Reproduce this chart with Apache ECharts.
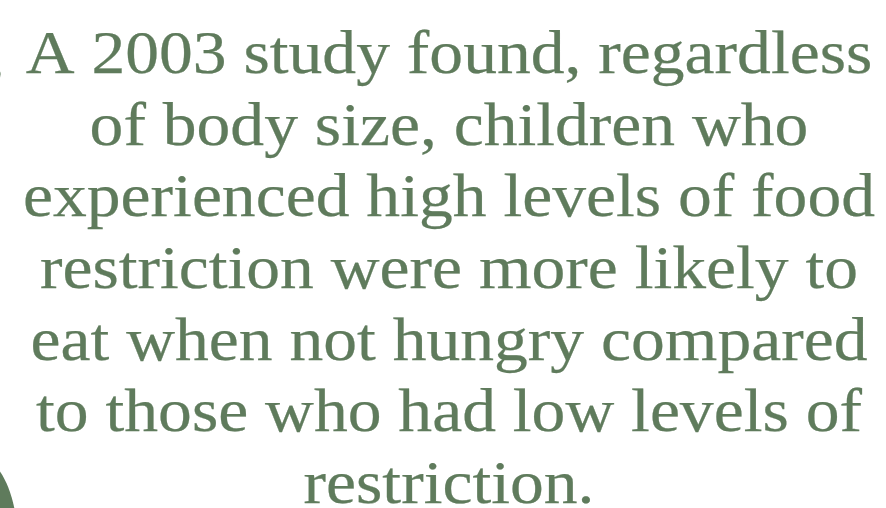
<!DOCTYPE html>
<html><head><meta charset="utf-8">
<script src="https://cdn.jsdelivr.net/npm/echarts@6/dist/echarts.min.js"></script>
<style>html,body{margin:0;padding:0;background:#fff}#c{width:886px;height:508px}</style>
</head><body><div id="c"></div>
<script>
var lines = [
  "A 2003 study found, regardless",
  "of body size, children who",
  "experienced high levels of food",
  "restriction were more likely to",
  "eat when not hungry compared",
  "to those who had low levels of",
  "restriction."
];
var lineCenters = [57, 129, 200, 272, 344, 415, 487];
var color = '#5f7b5c';
var chart = echarts.init(document.getElementById('c'), null, {renderer: 'canvas'});
var els = lines.map(function (t, i) {
  return {
    type: 'text', x: 449, y: lineCenters[i], scaleX: 1.09, scaleY: 1,
    style: { text: t, fill: color, stroke: color, lineWidth: 0.25, font: '62px "Liberation Serif"', align: 'center', verticalAlign: 'middle' }
  };
});
els.push({ type: 'text', x: -11, y: 59, style: { text: ',', fill: color, font: '62px "Liberation Serif"', align: 'left', verticalAlign: 'middle' } });
els.push({ type: 'ellipse', shape: { cx: -22, cy: 545, rx: 40, ry: 88 }, style: { fill: color } });
chart.setOption({ animation: false, graphic: { elements: els } });
</script></body></html>
